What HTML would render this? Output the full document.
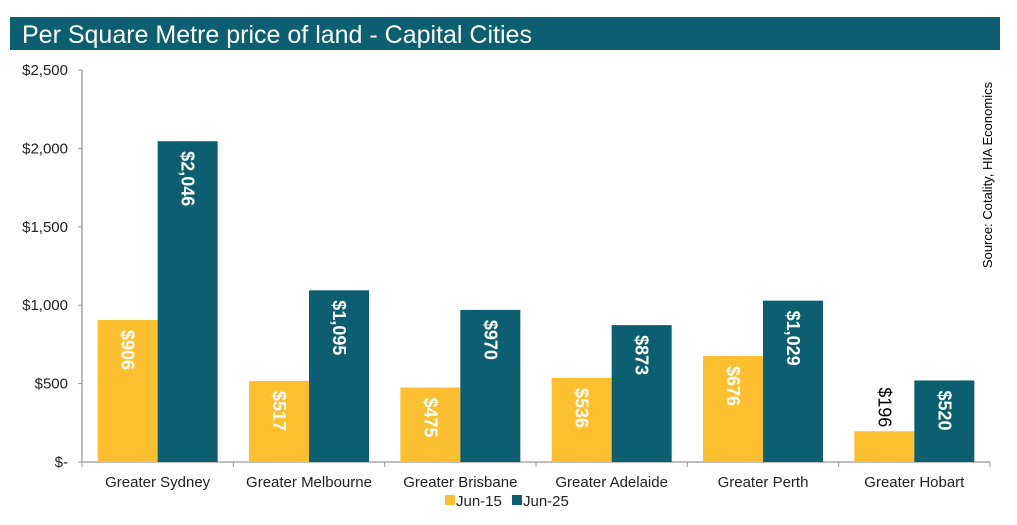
<!DOCTYPE html>
<html><head><meta charset="utf-8"><style>
body{margin:0;background:#fff;width:1017px;height:520px;overflow:hidden;font-family:"Liberation Sans",Arial,sans-serif}
</style></head><body>
<svg width="1017" height="520" xmlns="http://www.w3.org/2000/svg">
<rect x="10" y="17" width="990" height="33" fill="#0c5f70"/>
<text x="22" y="43" font-size="25" fill="#fff" font-family="Liberation Sans, sans-serif">Per Square Metre price of land - Capital Cities</text>
<g id="plot"></g>
<text transform="translate(992,175) rotate(-90)" text-anchor="middle" font-size="13" fill="#000">Source: Cotality, HIA Economics</text>
</svg>
<script>
const categories=["Greater Sydney","Greater Melbourne","Greater Brisbane","Greater Adelaide","Greater Perth","Greater Hobart"];
const jun15=[906,517,475,536,676,196];
const jun25=[2046,1095,970,873,1029,520];
const yTicks=[0,500,1000,1500,2000,2500];
const yTickLabels=["$-","$500","$1,000","$1,500","$2,000","$2,500"];
const seriesNames=["Jun-15","Jun-25"];
const colors=["#fbbf2f","#0c5f70"];
const X0=82,X1=990,Y0=462,Y1=70,YMAX=2500;
const y=v=>Y0-(v/YMAX)*(Y0-Y1);
const bw=(X1-X0)/categories.length;
const NS="http://www.w3.org/2000/svg";
const g=document.getElementById('plot');
function mk(t,a,txt){const e=document.createElementNS(NS,t);for(const k in a)e.setAttribute(k,a[k]);if(txt!=null)e.textContent=txt;g.appendChild(e);return e;}
let ax=mk('line',{x1:X0,y1:Y1,x2:X0,y2:Y0,stroke:'#999','stroke-width':1.3});


let xa=mk('line',{x1:X0,y1:Y0,x2:X1,y2:Y0,stroke:'#999','stroke-width':1.3});


yTicks.forEach((v,i)=>{
  mk('line',{x1:X0-4,y1:y(v),x2:X0,y2:y(v),stroke:'#999'});
  const t=mk('text',{x:X0-14,y:y(v)+5,'text-anchor':'end','font-size':15,fill:'#222'},yTickLabels[i]);
  
  
});
for(let i=0;i<=categories.length;i++){mk('line',{x1:X0+i*bw,y1:Y0,x2:X0+i*bw,y2:Y0+5,stroke:'#999'});}
const barW=60;
categories.forEach((c,i)=>{
  const cx=X0+bw*(i+0.5);
  [jun15,jun25].forEach((s,j)=>{
    const v=s[i];const x=cx-barW+j*barW;
    const r=mk('rect',{x:x,y:y(v),width:barW,height:Y0-y(v),fill:colors[j]});
    
    
    const lbl='$'+v.toLocaleString('en-US');
    const h=Y0-y(v);
    const inside=h>70;
    const attrs=inside?{transform:`translate(${x+barW/2-6},${y(v)+10}) rotate(90)`,'font-size':18,fill:'#fff','font-weight':'bold'}
      :{transform:`translate(${x+barW/2-6},${y(v)-4}) rotate(90)`,'text-anchor':'end','font-size':18,fill:'#000'};
    const t=mk('text',attrs,lbl);
    
    
  });
  const t=mk('text',{x:cx,y:487,'text-anchor':'middle','font-size':15,fill:'#222'},c);
  
  
});
let lx=445;
seriesNames.forEach((n,j)=>{
  const r=mk('rect',{x:lx,y:495,width:10,height:10,fill:colors[j]});
  
  
  const t=mk('text',{x:lx+11,y:506,'font-size':15,fill:'#222'},n);
  
  
  lx+=67;
});
</script>
</body></html>
